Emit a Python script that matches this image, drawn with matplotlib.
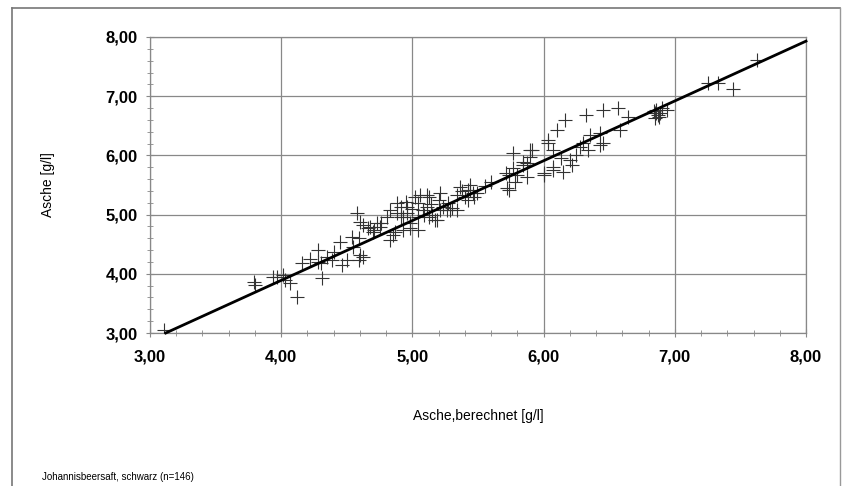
import matplotlib
matplotlib.use("Agg")
import matplotlib.pyplot as plt
from matplotlib.ticker import MultipleLocator, FuncFormatter
from matplotlib.lines import Line2D

plt.rcParams['font.family'] = ['Liberation Sans', 'DejaVu Sans']

asche_berechnet = [
    3.11, 3.79, 3.80, 3.94, 3.97, 4.01, 4.03, 4.07, 4.12, 4.16,
    4.28, 4.28, 4.30, 4.31, 4.35, 4.39, 4.45, 4.46, 4.50, 4.54,
    4.59, 4.60, 4.59, 4.62, 4.58, 4.60, 4.62, 4.66, 4.71, 4.73,
    4.68, 4.70, 4.75, 4.85, 4.83, 4.83, 4.88, 4.91, 4.88, 4.93,
    4.96, 4.96, 4.81, 4.91, 4.98, 4.93, 4.98, 5.02, 5.04, 5.06,
    5.11, 5.13, 5.08, 5.11, 5.15, 5.13, 5.19, 5.04, 5.04, 5.20,
    5.21, 5.21, 5.23, 5.26, 5.29, 5.30, 5.34, 5.17, 5.34, 5.36,
    5.42, 5.44, 5.42, 5.40, 5.46, 5.49, 5.44, 5.72, 5.74, 5.74,
    5.71, 5.77, 5.77, 5.80, 5.84, 5.84, 5.87, 5.87, 5.90, 5.90,
    5.91, 6.00, 6.00, 6.03, 6.03, 6.07, 6.07, 6.07, 6.10, 6.13,
    6.15, 6.16, 6.20, 6.22, 6.28, 6.30, 6.32, 6.34, 6.35, 6.43,
    6.43, 6.45, 6.45, 6.57, 6.58, 6.64, 6.85, 6.86, 6.86, 6.89,
    6.85, 6.94, 6.88, 7.25, 7.33, 7.44, 7.63, 4.76, 4.87, 5.00,
    5.09, 5.14, 5.27, 5.38, 4.55, 4.40, 6.87, 6.84, 6.90, 5.55,
    5.60, 5.78, 6.25, 4.95, 5.47, 4.22,
]
asche = [
    3.05, 3.86, 3.81, 3.95, 3.95, 3.98, 3.90, 3.84, 3.61, 4.18,
    4.40, 4.20, 4.18, 3.93, 4.28, 4.23, 4.54, 4.15, 4.23, 4.62,
    4.60, 4.32, 4.23, 4.28, 5.03, 4.88, 4.82, 4.77, 4.74, 4.86,
    4.79, 4.71, 4.79, 4.66, 4.57, 5.08, 5.20, 5.13, 5.03, 4.96,
    5.13, 5.03, 4.96, 4.96, 4.86, 4.74, 4.77, 5.30, 5.20, 5.33,
    5.33, 5.30, 5.08, 5.13, 4.99, 4.96, 4.91, 4.96, 4.74, 5.25,
    5.36, 5.08, 5.13, 5.08, 5.08, 5.11, 5.08, 4.91, 5.33, 5.47,
    5.42, 5.50, 5.25, 5.30, 5.36, 5.36, 5.42, 5.45, 5.42, 5.67,
    5.70, 5.79, 6.04, 5.67, 5.89, 5.84, 5.87, 5.64, 6.09, 5.97,
    6.09, 5.67, 5.70, 6.21, 6.26, 6.09, 5.75, 5.80, 6.43, 5.96,
    5.72, 6.60, 5.93, 5.84, 6.14, 6.21, 6.68, 6.09, 6.34, 6.38,
    6.18, 6.21, 6.77, 6.80, 6.43, 6.65, 6.63, 6.72, 6.77, 6.72,
    6.72, 6.77, 6.65, 7.22, 7.22, 7.12, 7.61, 4.85, 4.70, 5.10,
    5.00, 5.18, 5.20, 5.40, 4.45, 4.36, 6.68, 6.75, 6.80, 5.48,
    5.55, 5.55, 6.00, 5.22, 5.30, 4.25,
]
line_x = [3.12, 8.00]
line_y = [3.00, 7.93]

x_ticks = [3, 4, 5, 6, 7, 8]
y_ticks = [3, 4, 5, 6, 7, 8]

fig = plt.figure(figsize=(8.53, 4.86), dpi=100)
ax = fig.add_axes([150/853, 1-333/486, (806-150)/853, (333-37)/486])

ax.plot(asche_berechnet, asche, linestyle='none', marker='+', markersize=10,
        markeredgewidth=0.8, color='#333333', zorder=3)
ax.plot(line_x, line_y, color='black', linewidth=2.0, zorder=4, clip_on=False)

ax.set_xlim(3, 8)
ax.set_ylim(3, 8)
ax.set_xticks(x_ticks)
ax.set_yticks(y_ticks)
ax.xaxis.set_minor_locator(MultipleLocator(0.2))
ax.yaxis.set_minor_locator(MultipleLocator(0.2))
fmt = FuncFormatter(lambda v, p: f"{v:.2f}".replace('.', ','))
ax.xaxis.set_major_formatter(fmt)
ax.yaxis.set_major_formatter(fmt)
ax.grid(True, which='major', color='#888888', linewidth=0.9)
ax.set_axisbelow(True)
for s in ax.spines.values():
    s.set_color('#888888')
    s.set_linewidth(0.9)
ax.tick_params(which='major', direction='inout', length=6, color='#888888',
               labelsize=12, labelcolor='black', pad=6)
ax.tick_params(axis='x', which='major', pad=9)
ax.tick_params(which='minor', direction='inout', length=4, color='#888888')
for lbl in ax.get_xticklabels() + ax.get_yticklabels():
    lbl.set_fontweight('bold')

ax.set_xlabel('Asche,berechnet [g/l]', fontsize=10, labelpad=32)
ax.set_ylabel('Asche [g/l]', fontsize=10, labelpad=36)

fig.text(42/853, 1-477/486, 'Johannisbeersaft, schwarz (n=146)', fontsize=7,
         va='center', ha='left')

# outer frame
fig.add_artist(Line2D([12/853, 12/853], [0, 1-8/486], transform=fig.transFigure,
                      color='#777777', linewidth=1.2))
fig.add_artist(Line2D([12/853, 840/853], [1-8/486, 1-8/486], transform=fig.transFigure,
                      color='#777777', linewidth=1.2))
fig.add_artist(Line2D([840/853, 840/853], [0, 1-8/486], transform=fig.transFigure,
                      color='#999999', linewidth=1.0))

fig.savefig('out.png', dpi=100)
